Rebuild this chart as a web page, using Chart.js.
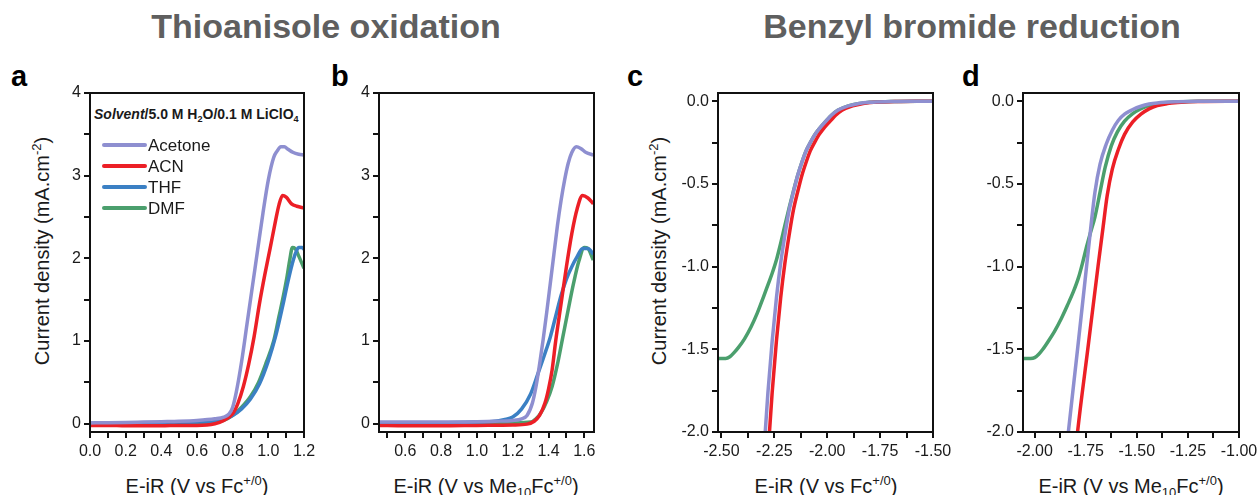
<!DOCTYPE html>
<html>
<head>
<meta charset="utf-8">
<script src="https://cdn.jsdelivr.net/npm/chart.js@4.4.1/dist/chart.umd.min.js"></script>
<style>
  body { margin: 0; background: #fff; width: 1260px; height: 495px; position: relative; overflow: hidden;
         font-family: "Liberation Sans", Arial, sans-serif; color: #1a1a1a; }
  canvas { position: absolute; }
  .t { position: absolute; white-space: nowrap; line-height: 1; }
  .title { font-size: 34px; font-weight: bold; color: #5f5f5f; transform: translateX(-50%); top: 9px; }
  .letter { font-size: 29px; font-weight: bold; color: #000; top: 62px; }
  .xt { font-size: 20px; top: 476px; transform: translateX(-50%); }
  .yt { font-size: 20px; transform: translate(-50%, -50%) rotate(-90deg); }
  .note { font-size: 14px; font-weight: bold; left: 94px; top: 107px; }
  sup { font-size: 0.65em; vertical-align: 0.6em; line-height: 0; }
  sub { font-size: 0.65em; vertical-align: -0.3em; line-height: 0; }
</style>
</head>
<body>
<div class="t title" style="left:326px">Thioanisole oxidation</div>
<div class="t title" style="left:972px">Benzyl bromide reduction</div>
<div class="t letter" style="left:11px">a</div>
<div class="t letter" style="left:331px">b</div>
<div class="t letter" style="left:627px">c</div>
<div class="t letter" style="left:962px">d</div>
<div class="t note"><i>Solvent</i>/5.0 M H<sub>2</sub>O/0.1 M LiClO<sub>4</sub></div>
<div class="t yt" style="left:42px;top:251px">Current density (mA.cm<sup>-2</sup>)</div>
<div class="t yt" style="left:659px;top:251px">Current density (mA.cm<sup>-2</sup>)</div>
<div class="t xt" style="left:197px">E-iR (V vs Fc<sup>+/0</sup>)</div>
<div class="t xt" style="left:486px">E-iR (V vs Me<sub>10</sub>Fc<sup>+/0</sup>)</div>
<div class="t xt" style="left:826px">E-iR (V vs Fc<sup>+/0</sup>)</div>
<div class="t xt" style="left:1131px">E-iR (V vs Me<sub>10</sub>Fc<sup>+/0</sup>)</div>

<canvas id="chartA"></canvas>
<canvas id="chartB"></canvas>
<canvas id="chartC"></canvas>
<canvas id="chartD"></canvas>

<script>
// series names and colours
const seriesNames = ['Acetone', 'ACN', 'THF', 'DMF'];
const seriesColors = ['#8e8fd0', '#ec1f26', '#3b80c4', '#4b9f6d'];

// panel a - thioanisole oxidation vs Fc
const aAcetone = [[0,0.01],[0.1,0.012],[0.2,0.015],[0.3,0.02],[0.4,0.025],[0.5,0.03],[0.6,0.04],[0.7,0.06],[0.75,0.08],[0.78,0.12],[0.8,0.2],[0.82,0.38],[0.85,0.75],[0.88,1.2],[0.91,1.65],[0.94,2.1],[0.97,2.55],[1.0,2.95],[1.03,3.22],[1.05,3.3],[1.07,3.35],[1.09,3.35],[1.11,3.32],[1.14,3.28],[1.17,3.26],[1.2,3.25]];
const aACN = [[0,-0.02],[0.1,-0.02],[0.2,-0.025],[0.3,-0.025],[0.4,-0.025],[0.5,-0.02],[0.6,-0.02],[0.7,0.0],[0.75,0.04],[0.8,0.12],[0.83,0.25],[0.86,0.45],[0.89,0.72],[0.92,1.05],[0.95,1.45],[0.98,1.8],[1.01,2.12],[1.04,2.45],[1.06,2.65],[1.08,2.76],[1.1,2.74],[1.13,2.66],[1.16,2.63],[1.2,2.61]];
const aTHF = [[0,0.005],[0.2,0.005],[0.4,0.01],[0.6,0.02],[0.7,0.03],[0.75,0.05],[0.8,0.1],[0.85,0.18],[0.9,0.3],[0.95,0.48],[1.0,0.76],[1.04,1.05],[1.08,1.42],[1.11,1.72],[1.14,1.98],[1.16,2.1],[1.17,2.13],[1.19,2.13],[1.2,2.11]];
const aDMF = [[0,0.0],[0.2,0.0],[0.4,0.005],[0.6,0.01],[0.7,0.025],[0.75,0.04],[0.8,0.1],[0.85,0.2],[0.9,0.33],[0.945,0.5],[0.99,0.75],[1.03,1.0],[1.06,1.3],[1.08,1.5],[1.105,1.78],[1.12,1.98],[1.135,2.13],[1.15,2.12],[1.17,2.03],[1.2,1.88]];

// panel b - thioanisole oxidation vs Me10Fc
const bAcetone = [[0.45,0.02],[0.6,0.02],[0.8,0.02],[1.0,0.025],[1.1,0.03],[1.2,0.04],[1.25,0.06],[1.28,0.1],[1.31,0.25],[1.33,0.45],[1.35,0.72],[1.37,1.02],[1.39,1.35],[1.41,1.7],[1.43,2.05],[1.45,2.4],[1.47,2.7],[1.49,2.95],[1.51,3.15],[1.53,3.28],[1.555,3.35],[1.58,3.33],[1.61,3.28],[1.65,3.25]];
const bACN = [[0.45,-0.02],[0.6,-0.025],[0.8,-0.025],[1.0,-0.02],[1.2,-0.015],[1.28,-0.005],[1.32,0.03],[1.35,0.1],[1.38,0.25],[1.4,0.42],[1.42,0.65],[1.44,1.0],[1.47,1.45],[1.5,1.9],[1.53,2.3],[1.56,2.6],[1.59,2.76],[1.62,2.73],[1.65,2.66]];
const bTHF = [[0.45,0.01],[0.8,0.01],[1.0,0.02],[1.1,0.03],[1.15,0.05],[1.2,0.08],[1.25,0.18],[1.3,0.36],[1.34,0.6],[1.38,0.85],[1.41,1.05],[1.44,1.3],[1.47,1.55],[1.5,1.75],[1.53,1.9],[1.56,2.02],[1.59,2.12],[1.62,2.12],[1.65,2.05]];
const bDMF = [[0.45,0.0],[0.8,0.0],[1.0,0.005],[1.2,0.01],[1.3,0.02],[1.33,0.06],[1.36,0.14],[1.39,0.27],[1.42,0.45],[1.45,0.72],[1.48,1.05],[1.51,1.38],[1.54,1.7],[1.57,1.97],[1.6,2.13],[1.62,2.12],[1.65,1.98]];

// panel c - benzyl bromide reduction vs Fc
const cAcetone = [[-2.3,-2.14],[-2.28,-1.76],[-2.26,-1.45],[-2.24,-1.19],[-2.22,-0.98],[-2.2,-0.81],[-2.18,-0.66],[-2.16,-0.55],[-2.14,-0.45],[-2.12,-0.37],[-2.1,-0.3],[-2.08,-0.25],[-2.06,-0.205],[-2.04,-0.17],[-2.02,-0.14],[-2.0,-0.112],[-1.98,-0.085],[-1.95,-0.055],[-1.9,-0.028],[-1.85,-0.013],[-1.8,-0.006],[-1.7,-0.002],[-1.6,0.0],[-1.5,0.0]];
const cACN = [[-2.28,-2.14],[-2.26,-1.76],[-2.24,-1.45],[-2.22,-1.19],[-2.2,-0.98],[-2.18,-0.81],[-2.16,-0.66],[-2.14,-0.55],[-2.12,-0.45],[-2.1,-0.37],[-2.08,-0.3],[-2.06,-0.25],[-2.04,-0.205],[-2.02,-0.17],[-2.0,-0.14],[-1.98,-0.112],[-1.96,-0.085],[-1.93,-0.055],[-1.88,-0.028],[-1.83,-0.013],[-1.78,-0.006],[-1.68,-0.002],[-1.58,0.0],[-1.5,0.0]];
const cDMF = [[-2.52,-1.555],[-2.48,-1.555],[-2.46,-1.545],[-2.44,-1.52],[-2.42,-1.49],[-2.39,-1.435],[-2.36,-1.365],[-2.33,-1.28],[-2.3,-1.18],[-2.28,-1.11],[-2.26,-1.04],[-2.24,-0.96],[-2.22,-0.86],[-2.2,-0.75],[-2.18,-0.645],[-2.16,-0.545],[-2.14,-0.45],[-2.12,-0.37],[-2.1,-0.3],[-2.08,-0.25],[-2.06,-0.205],[-2.04,-0.17],[-2.02,-0.14],[-2.0,-0.112],[-1.98,-0.085],[-1.95,-0.055],[-1.9,-0.028],[-1.8,-0.006],[-1.7,-0.002],[-1.5,0.0]];

// panel d - benzyl bromide reduction vs Me10Fc
const dAcetone = [[-1.86,-2.3],[-1.835,-2.0],[-1.79,-1.5],[-1.746,-1.0],[-1.725,-0.76],[-1.705,-0.55],[-1.68,-0.38],[-1.65,-0.26],[-1.62,-0.175],[-1.59,-0.115],[-1.56,-0.078],[-1.52,-0.05],[-1.48,-0.03],[-1.44,-0.017],[-1.4,-0.01],[-1.3,-0.003],[-1.2,0.0],[-1.0,0.0]];
const dACN = [[-1.81,-2.25],[-1.79,-2.0],[-1.74,-1.5],[-1.69,-1.0],[-1.665,-0.76],[-1.645,-0.57],[-1.62,-0.41],[-1.59,-0.29],[-1.56,-0.2],[-1.52,-0.125],[-1.48,-0.078],[-1.44,-0.046],[-1.4,-0.026],[-1.35,-0.014],[-1.3,-0.008],[-1.2,-0.002],[-1.0,0.0]];
const dDMF = [[-2.06,-1.555],[-2.02,-1.555],[-2.0,-1.55],[-1.98,-1.53],[-1.96,-1.5],[-1.93,-1.445],[-1.9,-1.385],[-1.87,-1.315],[-1.84,-1.235],[-1.81,-1.15],[-1.785,-1.065],[-1.765,-0.975],[-1.748,-0.89],[-1.728,-0.8],[-1.705,-0.7],[-1.68,-0.55],[-1.655,-0.4],[-1.625,-0.27],[-1.595,-0.185],[-1.56,-0.12],[-1.52,-0.075],[-1.48,-0.045],[-1.43,-0.022],[-1.38,-0.011],[-1.3,-0.004],[-1.2,0.0],[-1.0,0.0]];

// tick labels
const ticksOxY = [0, 1, 2, 3, 4];
const ticksAX = [0, 0.2, 0.4, 0.6, 0.8, 1.0, 1.2];
const ticksBX = [0.6, 0.8, 1.0, 1.2, 1.4, 1.6];
const ticksRedY = [0, -0.5, -1.0, -1.5, -2.0];
const ticksCX = [-2.5, -2.25, -2.0, -1.75, -1.5];
const ticksDX = [-2.0, -1.75, -1.5, -1.25, -1.0];

const FONT = '"Liberation Sans", Arial, sans-serif';
const LEFT = 60, TOP = 12, RIGHT = 26, BOTTOM = 32;

// minor tick values between majors
function minorTicks(min, max, anchor, step) {
  const out = [];
  let v = anchor;
  while (v - step >= min - 1e-9) v -= step;
  for (; v <= max + 1e-9; v += step) out.push(v);
  return out;
}

const framePlugin = {
  id: 'frame',
  afterDatasetsDraw(chart, args, opts) {
    const { ctx, chartArea: a, scales: { x, y } } = chart;
    ctx.save();
    ctx.strokeStyle = '#111';
    ctx.lineWidth = 2;
    ctx.strokeRect(a.left, a.top, a.right - a.left, a.bottom - a.top);
    ctx.beginPath();
    minorTicks(x.min, x.max, opts.xAnchor, opts.xStep).forEach(v => {
      const px = Math.round(x.getPixelForValue(v));
      ctx.moveTo(px, a.bottom); ctx.lineTo(px, a.bottom + 6);
    });
    minorTicks(y.min, y.max, opts.yAnchor, opts.yStep).forEach(v => {
      const py = Math.round(y.getPixelForValue(v));
      ctx.moveTo(a.left, py); ctx.lineTo(a.left - 6, py);
    });
    ctx.stroke();
    ctx.restore();
  }
};

const legendPlugin = {
  id: 'inlegend',
  afterDatasetsDraw(chart, args, opts) {
    if (!opts.show) return;
    const { ctx, chartArea: a } = chart;
    ctx.save();
    ctx.font = '17px ' + FONT;
    ctx.textBaseline = 'middle';
    ctx.lineCap = 'round';
    chart.data.datasets.forEach((ds, i) => {
      const yy = a.top + 52 + i * 21;
      ctx.strokeStyle = ds.borderColor;
      ctx.lineWidth = 4;
      ctx.beginPath();
      ctx.moveTo(a.left + 14, yy); ctx.lineTo(a.left + 55, yy);
      ctx.stroke();
      ctx.fillStyle = '#1a1a1a';
      ctx.fillText(ds.label, a.left + 58, yy + 1);
    });
    ctx.restore();
  }
};

function makePanel(id, box, xr, yr, xTicks, yTicks, xDec, yDec, xStep, yStep, lines, names, showLegend) {
  const cv = document.getElementById(id);
  const w = box.r - box.l + LEFT + RIGHT;
  const h = box.b - box.t + TOP + BOTTOM;
  cv.width = w; cv.height = h;
  cv.style.left = (box.l - LEFT) + 'px';
  cv.style.top = (box.t - TOP) + 'px';
  cv.style.width = w + 'px'; cv.style.height = h + 'px';

  const datasets = lines.map((pts, i) => {
    const k = seriesNames.indexOf(names[i]);
    return {
      label: names[i],
      data: pts,
      borderColor: seriesColors[k],
      borderWidth: 3.5,
      pointRadius: 0,
      fill: false,
      cubicInterpolationMode: 'monotone'
    };
  });

  return new Chart(cv.getContext('2d'), {
    type: 'line',
    data: { datasets: datasets },
    plugins: [framePlugin, legendPlugin],
    options: {
      responsive: false,
      animation: false,
      devicePixelRatio: 1,
      layout: { padding: { left: 0, top: TOP, right: RIGHT, bottom: 0 } },
      plugins: {
        legend: { display: false },
        tooltip: { enabled: false },
        frame: { xAnchor: xTicks[0], xStep: xStep, yAnchor: yTicks[0], yStep: yStep },
        inlegend: { show: showLegend }
      },
      scales: {
        x: {
          type: 'linear', min: xr[0], max: xr[1],
          grid: { display: false, drawTicks: false },
          border: { display: false },
          afterBuildTicks: s => { s.ticks = xTicks.map(v => ({ value: v })); },
          afterFit: s => { s.height = BOTTOM; s.paddingLeft = 0; s.paddingRight = 0; },
          ticks: {
            padding: 10, autoSkip: false, maxRotation: 0, color: '#1a1a1a',
            font: { size: 16, family: FONT },
            callback: v => Number(v).toFixed(xDec)
          }
        },
        y: {
          type: 'linear', min: yr[0], max: yr[1],
          grid: { display: false, drawTicks: false },
          border: { display: false },
          afterBuildTicks: s => { s.ticks = yTicks.map(v => ({ value: v })); },
          afterFit: s => { s.width = LEFT; s.paddingTop = 0; s.paddingBottom = 0; },
          ticks: {
            padding: 9, autoSkip: false, color: '#1a1a1a',
            font: { size: 16, family: FONT },
            callback: v => Number(v).toFixed(yDec)
          }
        }
      }
    }
  });
}

makePanel('chartA', { l: 90, t: 93, r: 304, b: 432 }, [0, 1.2], [-0.1, 4],
  ticksAX, ticksOxY, 1, 0, 0.1, 0.5,
  [aAcetone, aACN, aTHF, aDMF], ['Acetone', 'ACN', 'THF', 'DMF'], true);

makePanel('chartB', { l: 379, t: 93, r: 594, b: 432 }, [0.453, 1.654], [-0.1, 4],
  ticksBX, ticksOxY, 1, 0, 0.1, 0.5,
  [bAcetone, bACN, bTHF, bDMF], ['Acetone', 'ACN', 'THF', 'DMF'], false);

makePanel('chartC', { l: 718, t: 93, r: 933, b: 432 }, [-2.516, -1.5], [-2.0, 0.05],
  ticksCX, ticksRedY, 2, 1, 0.125, 0.25,
  [cAcetone, cACN, cDMF], ['Acetone', 'ACN', 'DMF'], false);

makePanel('chartD', { l: 1023, t: 93, r: 1239, b: 432 }, [-2.057, -1.0], [-2.0, 0.05],
  ticksDX, ticksRedY, 2, 1, 0.125, 0.25,
  [dAcetone, dACN, dDMF], ['Acetone', 'ACN', 'DMF'], false);
</script>
</body>
</html>
